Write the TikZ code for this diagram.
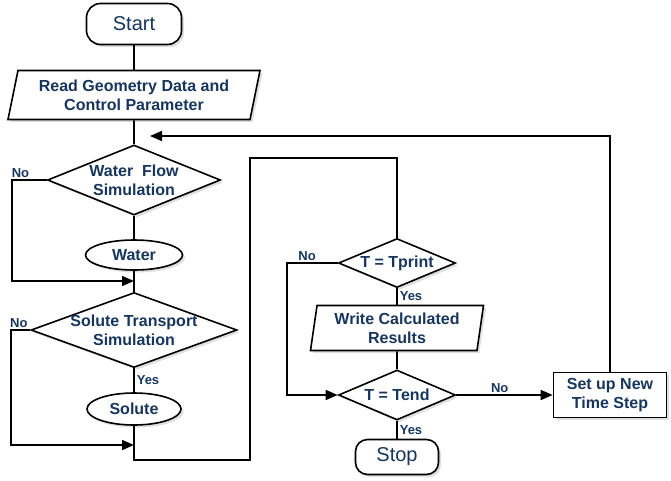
\documentclass[tikz,border=0pt]{standalone}
\usepackage{fontspec}
\setmainfont{Liberation Sans}
\usepackage{tikz}
\usetikzlibrary{positioning}
\usetikzlibrary{shapes,arrows,calc,arrows.meta,shadows}
\definecolor{labelblue}{RGB}{23,54,93}

\begin{document}
\begin{tikzpicture}[x=1pt,y=-1pt,line width=1.6pt,>={Triangle[length=12pt,width=10pt]},
    font=\bfseries\fontsize{16}{19}\selectfont,text=labelblue,
    box/.style={draw,fill=white,align=center,drop shadow={shadow xshift=2.5pt,shadow yshift=-2.5pt,fill=black!25}},
    term/.style={box,rounded corners=14pt,font=\mdseries\fontsize{20}{22}\selectfont},
    io/.style={box,trapezium,trapezium left angle=72,trapezium right angle=108,trapezium stretches body,inner sep=0pt},
    decision/.style={box,diamond,inner sep=-50pt},
    result/.style={box,ellipse,inner sep=0pt},
    proc/.style={box,rectangle,inner sep=0pt},
    tag/.style={font=\bfseries\fontsize{13}{14}\selectfont,inner sep=2pt}]
  \useasboundingbox (0,0) rectangle (671,480);
  % left column
  \node[term,minimum width=95pt,minimum height=41pt] (start) at (134,24) {Start};
  \node[io,minimum width=252pt,minimum height=49pt] (read) [below of=start,node distance=71pt] {Read Geometry Data and\\Control Parameter};
  \node[decision,minimum width=173pt,minimum height=70pt] (wflow) [below of=read,node distance=85pt] {Water~ Flow\\Simulation};
  \node[result,minimum width=97pt,minimum height=30pt] (water) [below of=wflow,node distance=75pt] {Water};
  \node[decision,minimum width=206pt,minimum height=75pt] (stsim) [below of=water,node distance=75pt] {Solute Transport\\Simulation};
  \node[result,minimum width=94pt,minimum height=32pt] (solute) [below of=stsim,node distance=79pt] {Solute};
  % right column
  \node[decision,minimum width=117pt,minimum height=49pt] (tprint) at (397,263) {T = Tprint};
  \node[io,trapezium left angle=78,trapezium right angle=102,minimum width=173pt,minimum height=45pt] (write) [below of=tprint,node distance=65pt] {Write Calculated\\Results};
  \node[decision,minimum width=117pt,minimum height=50pt] (tend) [below of=write,node distance=67pt] {T = Tend};
  \node[term,rounded corners=12pt,minimum width=83pt,minimum height=35pt] (stop) [below of=tend,node distance=62pt] {Stop};
  \node[proc,minimum width=113pt,minimum height=45pt] (setup) [right of=tend,node distance=213pt] {Set up New\\Time Step};
  \coordinate (wjoin) at (134,281);
  \coordinate (sjoin) at (134,445);
  \coordinate (back) at (150,136);

  \path (start) edge (read)
        (read) edge (wflow)
        (wflow) edge (water)
        (water) edge (stsim)
        (stsim) edge node[tag,right] {Yes} (solute)
        (tprint) edge node[tag,right,pos=0.45] {Yes} (write)
        (write) edge (tend)
        (tend) edge node[tag,right] {Yes} (stop)
        (tend) edge[->] node[tag,above,pos=0.45] {No} (setup);
  \draw[->] (wflow.west) -- node[tag,above,pos=0.75] {No} ++(-35,0) |- (wjoin);
  \draw[->] (stsim.west) -- node[tag,above,pos=0.6] {No} ++(-19,0) |- (sjoin);
  \draw (solute.south) |- (250,460) -- (250,158) -| (tprint.north);
  \draw[->] (tprint.west) -- node[tag,above,pos=0.6] {No} ++(-51,0) |- (tend.west);
  \draw[->] (setup.north) |- (back);
\end{tikzpicture}
\end{document}
